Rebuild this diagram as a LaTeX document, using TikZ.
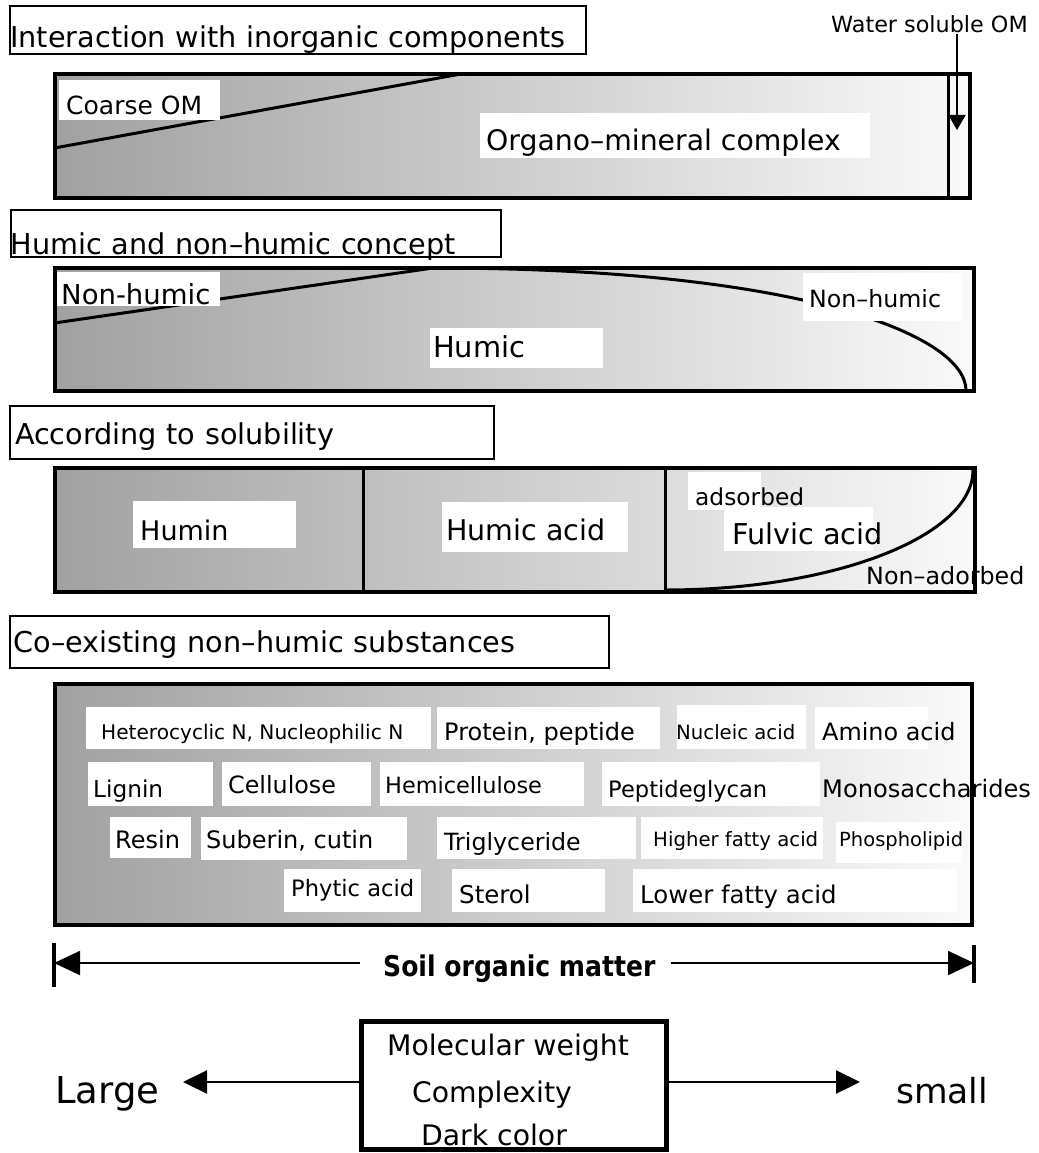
\documentclass[tikz,border=0pt]{standalone}
\usepackage{fontspec}
\setmainfont{DejaVu Sans}
\newfontfamily\somfont[FakeStretch=0.88]{DejaVu Sans}
\usetikzlibrary{arrows.meta}
\definecolor{gdark}{gray}{0.63}
\definecolor{glight}{gray}{0.98}
\tikzset{
  fsz/.style={font=\fontsize{#1}{#1}\selectfont},
  ttl/.style={draw, line width=2pt, anchor=north west, inner ysep=0pt, align=left, fsz=28.7},
  barline/.style={draw, line width=4pt},
  divline/.style={line width=3pt},
  wbox/.style={fill=white},
  lab/.style={anchor=base west, inner sep=0pt},
  conn/.style={line width=1.8pt},
  bigtip/.style={-{Triangle[length=26pt,width=24pt]}},
  midtip/.style={-{Triangle[length=24pt,width=23pt]}},
  smalltip/.style={-{Triangle[length=15pt,width=17pt]}},
  grad/.style={left color=gdark, right color=glight},
  mline/.style={anchor=base, inner sep=0pt, fsz=28.3}
}
\begin{document}
\begin{tikzpicture}[x=1pt,y=-1pt]
\useasboundingbox (0,0) rectangle (1038,1153);
\fill[white] (0,0) rectangle (1038,1153);

% ---------- Title 1 and bar 1
\node[ttl, inner xsep=0pt, text width=575.2pt, text height=42pt, text depth=6.3pt] (t1) at (9.3,5) {Interaction with inorganic components};
\shade[grad] (54.5,74.5) rectangle (970,198.3);
\draw[divline] (54.5,148) -- (458,74.5);
\draw[divline] (948,74.5) -- (948,198.3);
\fill[wbox] (59,80) rectangle (220,120);
\node[lab, fsz=25] (coarse) at (66,115) {Coarse OM};
\fill[wbox] (480,113) rectangle (870,158);
\node[lab, fsz=28.3] (organo) at (486,150) {Organo–mineral complex};
\draw[barline] (54.5,74.5) rectangle (970,198.3);
\node[lab, fsz=22.3] (wsom) at (831,33) {Water soluble OM};
\coordinate (wstip) at (957,130);
\draw[line width=1.7pt, smalltip] (wsom.south -| wstip) -- (wstip);

% ---------- Title 2 and bar 2
\node[ttl, inner xsep=0pt, text width=490.5pt, text height=44.6pt, text depth=2.7pt] (t2) at (9.5,208.7) {Humic and non–humic concept};
\shade[grad] (54.5,268) rectangle (974,390.5);
\draw[divline] (54.5,323) -- (433,268);
\draw[divline] (433,268) .. controls (800,268) and (966,335) .. (966,390.5);
\fill[wbox] (55,272) rectangle (220,306);
\node[lab, fsz=27.5] (nh1) at (61,304) {Non-humic};
\fill[wbox] (430,328) rectangle (603,368);
\node[lab, fsz=28.9] (humic) at (433,357) {Humic};
\fill[wbox] (803,273) rectangle (962,321);
\node[lab, fsz=23.7] (nh2) at (809,307) {Non–humic};
\draw[barline] (54.5,268) rectangle (974,390.5);

% ---------- Title 3 and bar 3
\node[ttl, inner xsep=5.5pt, text width=473.5pt, text height=38.8pt, text depth=14.7pt] (t3) at (8.5,404.5) {According to solubility};
\shade[grad] (54.5,468) rectangle (975,592);
\draw[divline] (363,468) -- (363,592);
\draw[divline] (665,468) -- (665,592);
\draw[divline] (665,590) .. controls (835,590) and (973,536) .. (973,470);
\fill[wbox] (133,501) rectangle (296,548);
\node[lab, fsz=27] (humin) at (140,540) {Humin};
\fill[wbox] (442,502) rectangle (628,552);
\node[lab, fsz=28.5] (humicacid) at (446,540) {Humic acid};
\fill[wbox] (688,472) rectangle (761,510);
\node[lab, fsz=23.3] (ads) at (695,505) {adsorbed};
\fill[wbox] (724,507) rectangle (873,551);
\node[lab, fsz=28.7] (fulvic) at (732,544) {Fulvic acid};
\node[lab, fsz=23.8] (nonads) at (866,584) {Non–adorbed};
\draw[barline] (54.5,468) rectangle (975,592);

% ---------- Title 4 and bar 4
\node[ttl, inner xsep=4pt, text width=591.5pt, text height=37.2pt, text depth=15.3pt] (t4) at (8.5,614.5) {Co–existing non–humic substances};
\shade[grad] (54.5,684) rectangle (972,925);
% row 1
\fill[wbox] (86,707) rectangle (431,749);
\node[lab, fsz=20.1] (het) at (101,739) {Heterocyclic N, Nucleophilic N};
\fill[wbox] (437,707) rectangle (660,749);
\node[lab, fsz=24] (prot) at (444,740) {Protein, peptide};
\fill[wbox] (677,705) rectangle (806,749);
\node[lab, fsz=19.7] (nuc) at (676,739) {Nucleic acid};
\fill[wbox] (815,707) rectangle (928,749);
\node[lab, fsz=23.9] (amino) at (822,740) {Amino acid};
% row 2
\fill[wbox] (88,762) rectangle (213,806);
\node[lab, fsz=23.2] (lignin) at (93,797) {Lignin};
\fill[wbox] (222,762) rectangle (371,806);
\node[lab, fsz=23.8] (cell) at (228,793) {Cellulose};
\fill[wbox] (380,762) rectangle (584,806);
\node[lab, fsz=22.4] (hemi) at (385,793) {Hemicellulose};
\fill[wbox] (602,762) rectangle (820,806);
\node[lab, fsz=22.6] (pepg) at (608,797) {Peptideglycan};
\node[lab, fsz=24.1] (mono) at (822,797) {Monosaccharides};
% row 3
\fill[wbox] (110,817) rectangle (191,858);
\node[lab, fsz=24] (resin) at (115,848) {Resin};
\fill[wbox] (201,817) rectangle (407,860);
\node[lab, fsz=24] (suberin) at (206,848) {Suberin, cutin};
\fill[wbox] (437,817) rectangle (636,859);
\node[lab, fsz=23.7] (trig) at (444,850) {Triglyceride};
\fill[wbox] (641,817) rectangle (823,859);
\node[lab, fsz=19.7] (hfa) at (653,846) {Higher fatty acid};
\fill[wbox] (836,822) rectangle (962,863);
\node[lab, fsz=19.5] (phos) at (839,846) {Phospholipid};
% row 4
\fill[wbox] (284,869) rectangle (421,912);
\node[lab, fsz=22.6] (phytic) at (291,896) {Phytic acid};
\fill[wbox] (452,869) rectangle (605,912);
\node[lab, fsz=24.5] (sterol) at (459,903) {Sterol};
\fill[wbox] (633,869) rectangle (957,912);
\node[lab, fsz=24.4] (lfa) at (640,903) {Lower fatty acid};
\draw[barline] (54.5,684) rectangle (972,925);

% ---------- Soil organic matter span
\node[lab, font=\somfont\bfseries\fontsize{28.5}{28.5}\selectfont] (som) at (383,976) {Soil organic matter};
\coordinate (lend) at (54,963);
\coordinate (rend) at (974,963);
\draw[line width=3.3pt] (54,943) -- (54,987);
\draw[line width=3.3pt] (974,945) -- (974,983);
\draw[conn, bigtip, shorten <=23pt] (som.west |- lend) -- (lend);
\draw[conn, bigtip, shorten <=15pt] (som.east |- rend) -- (rend);

% ---------- Bottom box
\node[draw, line width=5pt, minimum width=305pt, minimum height=128.5pt, inner sep=0pt] (mw) at (513.5,1085.3) {};
\node[mline] (mw1) at (508,1055) {Molecular weight};
\node[mline] (mw2) at (492,1102) {Complexity};
\node[mline] (mw3) at (494,1145) {Dark color};
\node[lab, fsz=37] (large) at (55,1103) {Large};
\node[lab, fsz=34.5] (small) at (896,1103) {small};
\coordinate (ltip) at (183,1082);
\coordinate (rtip) at (860,1082);
\draw[line width=2.2pt, midtip] (mw.west |- ltip) -- (ltip);
\draw[line width=2.2pt, midtip] (mw.east |- rtip) -- (rtip);
\end{tikzpicture}
\end{document}
